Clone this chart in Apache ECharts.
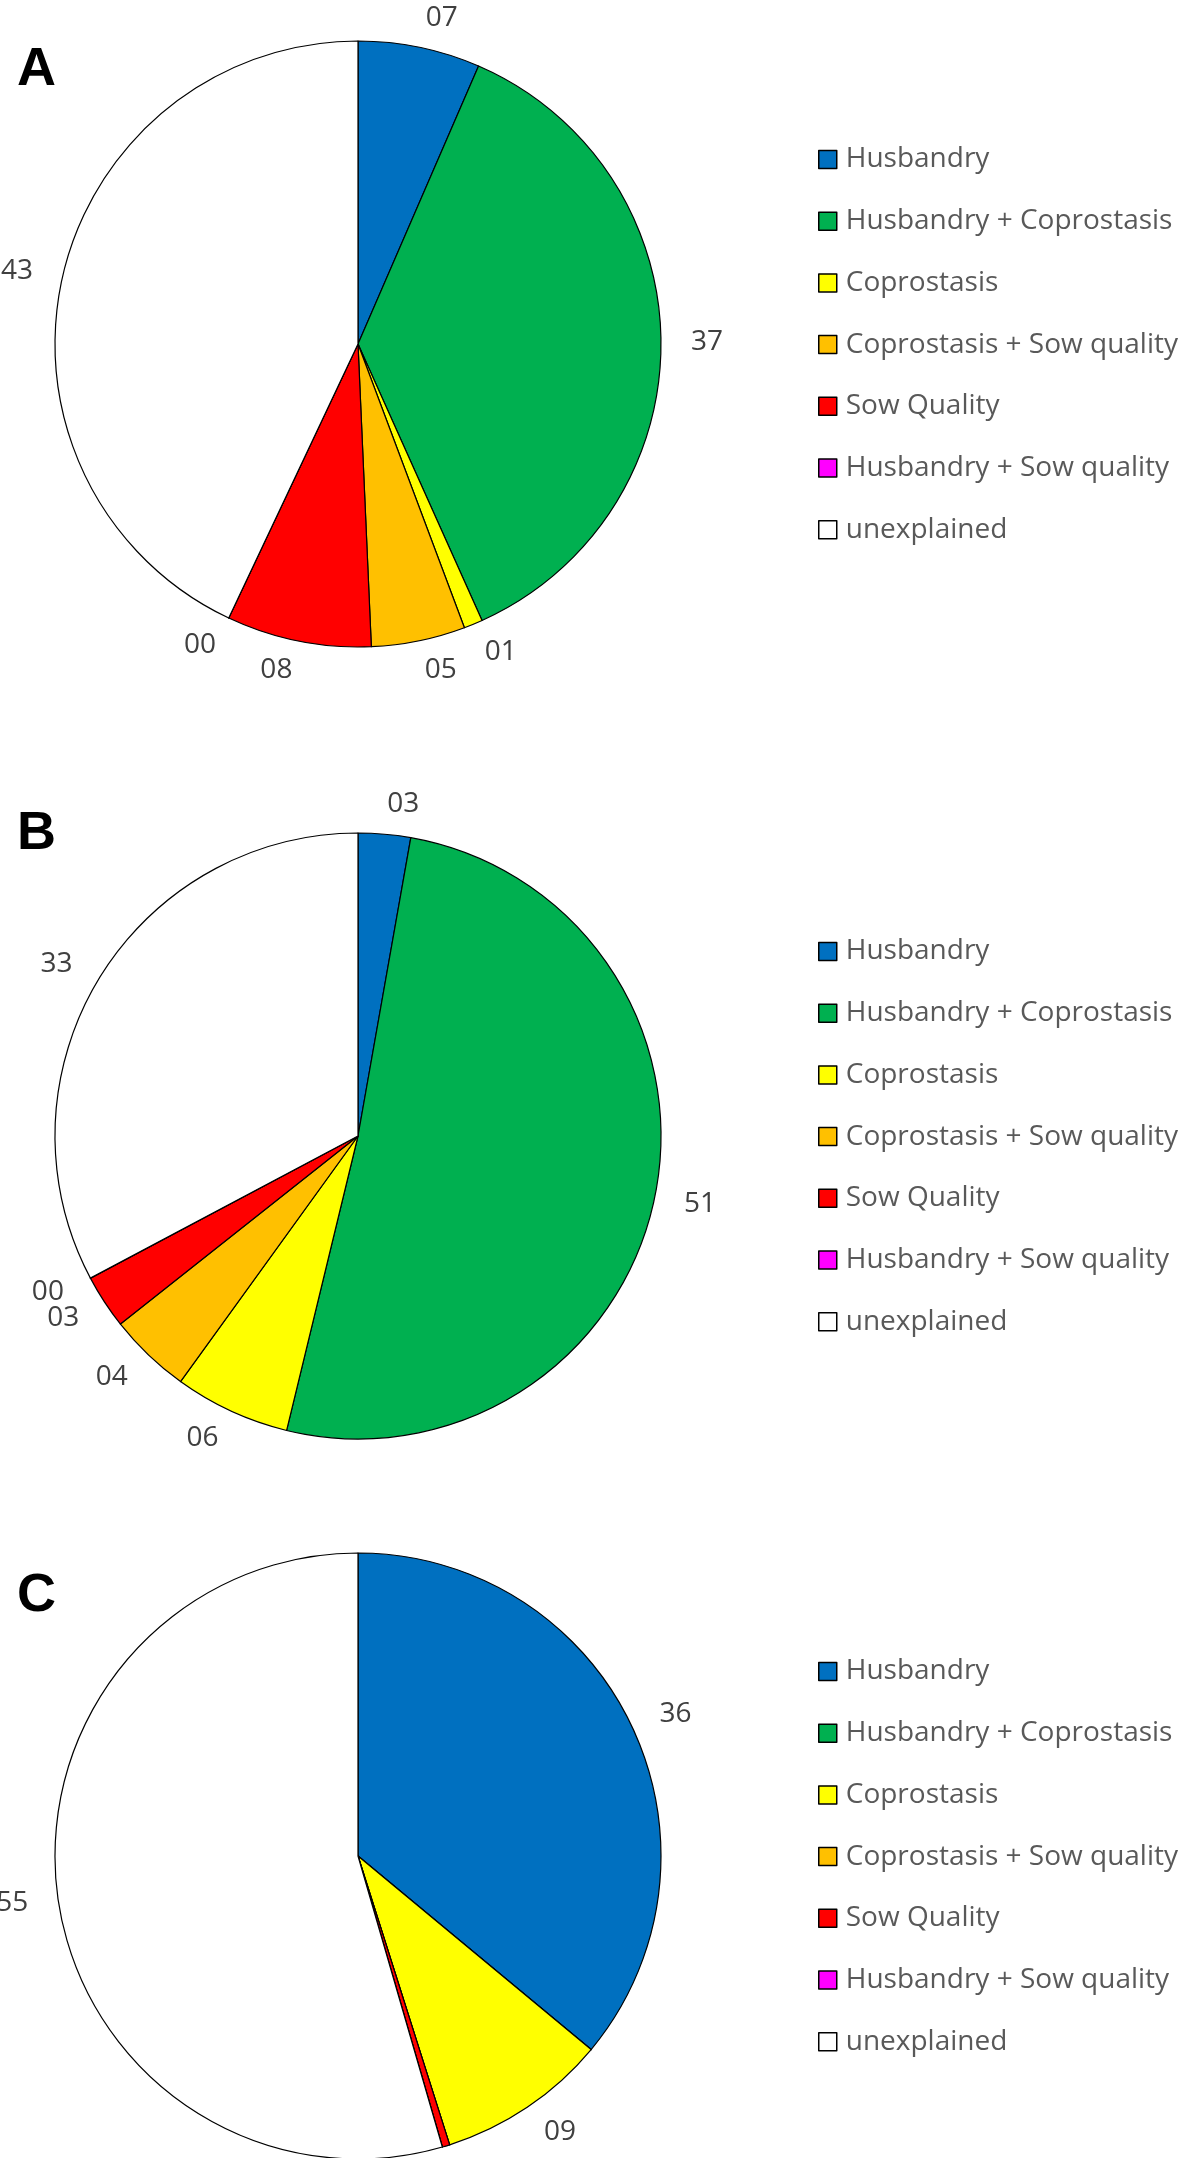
<!DOCTYPE html>
<html>
<head>
<meta charset="utf-8">
<script src="https://cdn.jsdelivr.net/npm/echarts@6/dist/echarts.min.js"></script>
<style>
  html, body { margin: 0; padding: 0; background: #ffffff; }
  #chart { width: 1181px; height: 2158px; }
</style>
</head>
<body>
<div id="chart"></div>
<script>
// ---- data ----
const categories = [
  'Husbandry',
  'Husbandry + Coprostasis',
  'Coprostasis',
  'Coprostasis + Sow quality',
  'Sow Quality',
  'Husbandry + Sow quality',
  'unexplained'
];
const panelLetters = ['A', 'B', 'C'];
const panelA = [6.5, 36.7, 1.0, 5.0, 7.7, 0, 42.9];
const panelB = [2.8, 51.2, 6.2, 4.4, 2.9, 0, 32.9];
const panelC = [36.1, 0, 9.1, 0, 0.4, 0, 54.6];
const panelValues = [panelA, panelB, panelC];

// ---- styling / layout ----
const sliceColors = ['#0070C0', '#00B050', '#FFFF00', '#FFC000', '#FF0000', '#FF00FF', '#FFFFFF'];
const pieCenters = [[358, 344], [358, 1136], [358, 1856]];
const pieRadius = 303;
const legendTops = [144.5, 936.5, 1656.5];
const letterTops = [43, 807, 1569];
const minLabelAngles = [0, 0, 2];

function pad2(v) {
  const s = String(Math.round(v));
  return s.length < 2 ? '0' + s : s;
}

const series = panelValues.map((vals, i) => ({
  type: 'pie',
  center: pieCenters[i],
  radius: pieRadius,
  startAngle: 90,
  clockwise: true,
  avoidLabelOverlap: false,
  minShowLabelAngle: minLabelAngles[i],
  animation: false,
  silent: true,
  itemStyle: { borderColor: '#000000', borderWidth: 1.2 },
  label: {
    show: true,
    position: 'outside',
    distanceToLabelLine: 0,
    formatter: p => pad2(p.value),
    fontFamily: 'Open Sans',
    fontWeight: 500,
    fontSize: 28,
    color: '#404040'
  },
  labelLine: { show: false, length: 30, length2: 0 },
  labelLayout: { hideOverlap: false },
  data: categories.map((name, k) => ({
    name: name,
    value: vals[k],
    itemStyle: { color: sliceColors[k] }
  }))
}));

const legends = legendTops.map(t => ({
  orient: 'vertical',
  left: 818,
  top: t,
  padding: 0,
  itemGap: 31.7,
  itemWidth: 18,
  itemHeight: 18,
  icon: 'rect',
  selectedMode: false,
  itemStyle: { borderColor: '#000000', borderWidth: 1.5 },
  textStyle: {
    fontFamily: 'Open Sans',
    fontWeight: 500,
    fontSize: 28,
    color: '#595959',
    lineHeight: 30,
    padding: [0, 0, 0, 4]
  },
  data: categories
}));

const titles = panelLetters.map((L, i) => ({
  text: L,
  left: 17,
  top: letterTops[i],
  padding: 0,
  textStyle: {
    fontFamily: 'Liberation Sans',
    fontWeight: 'bold',
    fontSize: 54,
    color: '#000000'
  }
}));

const chart = echarts.init(document.getElementById('chart'), null, { renderer: 'canvas' });
chart.setOption({
  backgroundColor: '#ffffff',
  animation: false,
  title: titles,
  legend: legends,
  series: series
});
</script>
</body>
</html>
